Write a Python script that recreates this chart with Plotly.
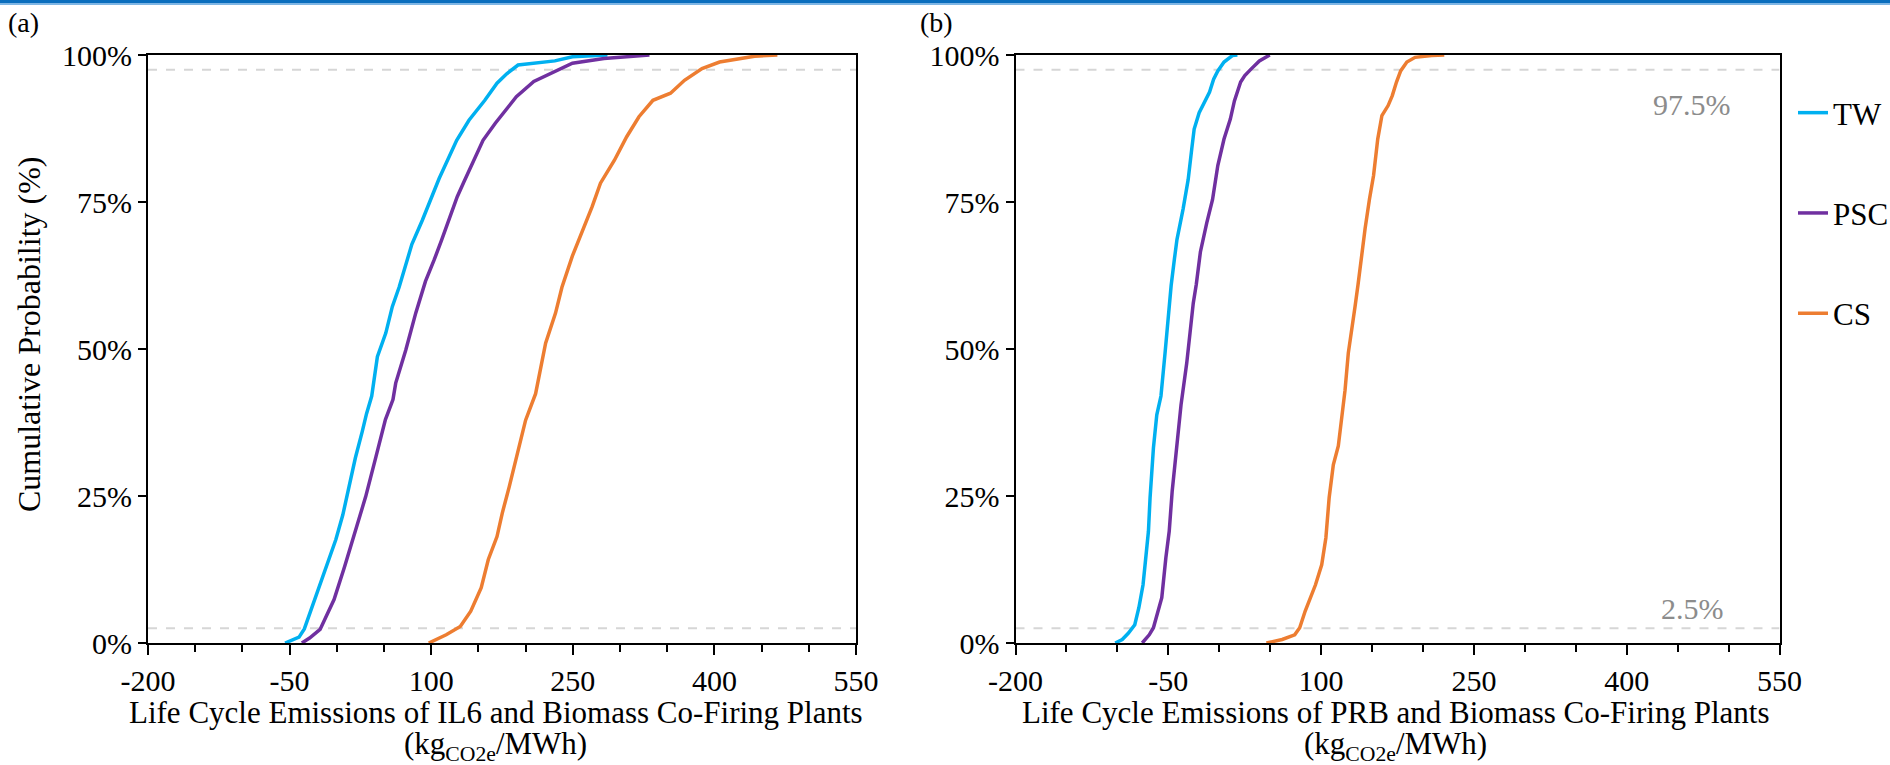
import plotly.graph_objects as go

# ---------------- data ----------------
# Panel (a): IL6 and biomass co-firing plants
a_tw_x = [-54.8, -40, -34.4, -23.3, -12.1, -1, 6.4, 19.7, 27, 31.5, 37, 43, 51.9, 58.8, 66, 69.4,
          79.5, 90.6, 98.5, 108.4, 127, 140, 156.8, 169.7, 180, 192, 231, 249.6, 286.7]
a_tw_p = [0, 1.0, 2.4, 7.4, 12.5, 17.6, 21.8, 31.5, 36, 39, 42, 48.7, 52.7, 57.2, 60.5, 62.3,
          67.8, 71.9, 75, 79, 85.5, 88.9, 92.3, 95.2, 96.8, 98.3, 99.0, 99.7, 100]

a_psc_x = [-37, -28.8, -17.7, -2.9, 8.3, 19.4, 30.6, 41.5, 51.5, 59.5, 62.4, 73, 83.6, 93.9, 99.2,
           103, 111, 118.8, 121.5, 127.6, 134.6, 154.9, 167.9, 190.2, 208.7, 231, 249.6, 283, 331.2]
a_psc_p = [0, 0.85, 2.3, 7.4, 13.0, 18.7, 24.9, 31.7, 38, 41.4, 44.2, 49.8, 56.1, 61.5, 63.4,
           65.1, 68.5, 71.9, 73.1, 75.9, 78.4, 85.5, 88.4, 92.9, 95.5, 97.2, 98.6, 99.4, 100]

a_cs_x = [97.4, 115.9, 130.8, 141.9, 153, 160.5, 169.7, 175.3, 182.7, 191.5, 200, 210.6, 221.2,
          231.7, 238.5, 249.5, 260, 266, 270.5, 279.3, 294.1, 307.1, 320.1, 334.9, 353.5, 368.3,
          386.9, 405.5, 442.6, 466.7]
a_cs_p = [0, 1.4, 2.8, 5.4, 9.4, 14.2, 18.1, 22.1, 26.6, 32.5, 37.9, 42.4, 51, 56.1, 60.5, 65.8,
          70, 72, 74.2, 78.2, 82.1, 86.1, 89.5, 92.3, 93.5, 95.7, 97.7, 98.8, 99.8, 100]

# Panel (b): PRB and biomass co-firing plants
b_tw_x = [-102.1, -95.2, -89.1, -82.9, -78.9, -74.8, -72.8, -69.5, -67.9, -64.6, -61.3, -57.2,
          -53.2, -50, -47.2, -44, -41.5, -35.5, -30.5, -27, -24.6, -19.7, -13, -9.5, -5.5, -1.4,
          4.7, 12.9, 17.8]
b_tw_p = [0, 0.6, 1.7, 3.1, 6.0, 9.9, 13.3, 19.0, 24.7, 33.2, 38.8, 42, 49.3, 56.1, 60.8, 65.3,
          68.6, 73.8, 78.8, 84.0, 87.4, 90.2, 92.5, 93.7, 95.9, 97.3, 98.8, 99.9, 100]

b_psc_x = [-75.6, -68.7, -64.6, -60.5, -56.4, -52.4, -49.1, -46.2, -43.5, -40.5, -37.5, -31.9,
           -28.7, -25.5, -22.5, -18.5, -12.2, -6.6, -1.4, 4.7, 10.9, 14.9, 21, 25.1, 31.2, 39.4, 49.6]
b_psc_p = [0, 1.4, 2.6, 5.4, 7.7, 14.5, 19.0, 25.8, 30.5, 36, 40.5, 47.6, 53.2, 57.8, 61, 66.5,
           71.5, 75.4, 81.2, 85.7, 89.1, 92.2, 95.4, 96.5, 97.6, 99, 100]

b_cs_x = [46.3, 61.8, 74.1, 79, 84.3, 90.4, 94.5, 100.6, 104.7, 107.9, 112, 116.9, 120.2, 123.5,
          126.7, 130, 133.3, 136.3, 139.5, 143.2, 147.5, 151.5, 155.6, 159.7, 165.8, 169.9, 174,
          178.1, 184.2, 192.3, 208.6, 220.9]
b_cs_p = [0, 0.6, 1.4, 2.6, 5.4, 8.2, 9.9, 13.3, 17.9, 24.7, 30.3, 33.5, 37.9, 43, 49.3, 53.8,
          57.2, 61, 66, 70.5, 75.5, 79.5, 85.7, 89.7, 91.4, 93.1, 95.4, 97.3, 98.8, 99.6, 99.9, 100]

series_names = ["TW", "PSC", "CS"]
series_colors = ["#00B0F0", "#7030A0", "#ED7D31"]
x_tick_vals = [-200, -50, 100, 250, 400, 550]
x_tick_text = ["-200", "-50", "100", "250", "400", "550"]
y_tick_vals = [0, 25, 50, 75, 100]
y_tick_text = ["0%", "25%", "50%", "75%", "100%"]
band_levels = [2.5, 97.5]
x_title_a = "Life Cycle Emissions of IL6 and Biomass Co-Firing Plants"
x_title_b = "Life Cycle Emissions of PRB and Biomass Co-Firing Plants"
x_unit = "(kg<sub>CO2e</sub>/MWh)"
y_title = "Cumulative Probability (%)"

FONT = "Liberation Serif"
W, H = 1890, 765

fig = go.Figure()

panel_a = [(a_tw_x, a_tw_p), (a_psc_x, a_psc_p), (a_cs_x, a_cs_p)]
panel_b = [(b_tw_x, b_tw_p), (b_psc_x, b_psc_p), (b_cs_x, b_cs_p)]

for i, (xs, ps) in enumerate(panel_a):
    fig.add_trace(go.Scatter(x=xs, y=ps, mode="lines", name=series_names[i],
                             legendgroup=series_names[i], showlegend=True,
                             line=dict(color=series_colors[i], width=3.5),
                             xaxis="x", yaxis="y"))
for i, (xs, ps) in enumerate(panel_b):
    fig.add_trace(go.Scatter(x=xs, y=ps, mode="lines", name=series_names[i],
                             legendgroup=series_names[i], showlegend=False,
                             line=dict(color=series_colors[i], width=3.5),
                             xaxis="x2", yaxis="y2"))


def px_x(p):
    return p / W


def px_y(p):
    return 1 - p / H


y_dom = [px_y(643), px_y(55)]


def x_axis(domain, anchor):
    return dict(domain=domain, anchor=anchor, range=[-200, 550],
                tickmode="array", tickvals=x_tick_vals, ticktext=x_tick_text,
                ticks="outside", ticklen=10, tickwidth=2, tickcolor="black",
                showline=True, linewidth=2, linecolor="black", mirror=True,
                showgrid=False, zeroline=False, automargin=False,
                minor=dict(tickmode="linear", dtick=50, tick0=-200, ticks="outside", ticklen=7,
                           tickwidth=2, tickcolor="black", showgrid=False),
                tickfont=dict(family=FONT, size=30, color="black"))


def y_axis(anchor):
    return dict(domain=y_dom, anchor=anchor, range=[0, 100],
                tickmode="array", tickvals=y_tick_vals, ticktext=y_tick_text,
                ticks="outside", ticklen=8, tickwidth=2, tickcolor="black",
                showline=True, linewidth=2, linecolor="black", mirror=True,
                showgrid=False, zeroline=False, automargin=False,
                tickfont=dict(family=FONT, size=30, color="black"))


fig.update_layout(
    width=W, height=H, autosize=False,
    margin=dict(l=0, r=0, t=0, b=0, pad=0, autoexpand=False),
    paper_bgcolor="white", plot_bgcolor="white",
    font=dict(family=FONT, size=30, color="black"),
    xaxis=x_axis([px_x(148), px_x(856)], "y"),
    yaxis=y_axis("x"),
    xaxis2=x_axis([px_x(1015.5), px_x(1779.5)], "y2"),
    yaxis2=y_axis("x2"),
    legend=dict(x=px_x(1793), y=px_y(86), xanchor="left", yanchor="top",
                font=dict(family=FONT, size=31, color="black"),
                tracegroupgap=57, traceorder="grouped", bgcolor="rgba(0,0,0,0)",
                itemwidth=30, borderwidth=0),
    showlegend=True,
)

shapes = []
for xr, yr in [("x", "y"), ("x2", "y2")]:
    for lv in band_levels:
        shapes.append(dict(type="line", xref=xr, yref=yr, x0=-200, x1=550, y0=lv, y1=lv,
                           line=dict(color="#d6d6d6", width=2, dash="dash"), layer="below"))
# thin blue band at the very top of the page
shapes.append(dict(type="rect", xref="paper", yref="paper", x0=0, x1=1,
                   y0=px_y(3), y1=1, fillcolor="#0a6ebd", line=dict(width=0), layer="above"))
shapes.append(dict(type="rect", xref="paper", yref="paper", x0=0, x1=1,
                   y0=px_y(5), y1=px_y(3), fillcolor="#7fb6e4", line=dict(width=0), layer="above"))
fig.update_layout(shapes=shapes)


def paper_text(text, x, y, size, **kw):
    return dict(text=text, xref="paper", yref="paper", x=px_x(x), y=px_y(y),
                xanchor=kw.pop("xanchor", "center"), yanchor="middle", showarrow=False,
                font=dict(family=FONT, size=size, color="black"), **kw)


annotations = [
    paper_text("(a)", 6, 22, 28, xanchor="left"),
    paper_text("(b)", 918, 22, 28, xanchor="left"),
    paper_text(y_title, 29, 334, 32, textangle=-90),
    paper_text(x_title_a, 496, 712, 31),
    paper_text(x_unit, 496, 746, 31),
    paper_text(x_title_b, 1395, 712, 31),
    paper_text(x_unit, 1395, 746, 31),
    dict(text="97.5%", xref="x2", yref="y2", x=504, y=91.5, xanchor="right", yanchor="middle",
         showarrow=False, font=dict(family=FONT, size=30, color="#8c8c8c")),
    dict(text="2.5%", xref="x2", yref="y2", x=497.5, y=5.9, xanchor="right", yanchor="middle",
         showarrow=False, font=dict(family=FONT, size=30, color="#8c8c8c")),
]
fig.update_layout(annotations=annotations)

fig.write_html("out.html")
